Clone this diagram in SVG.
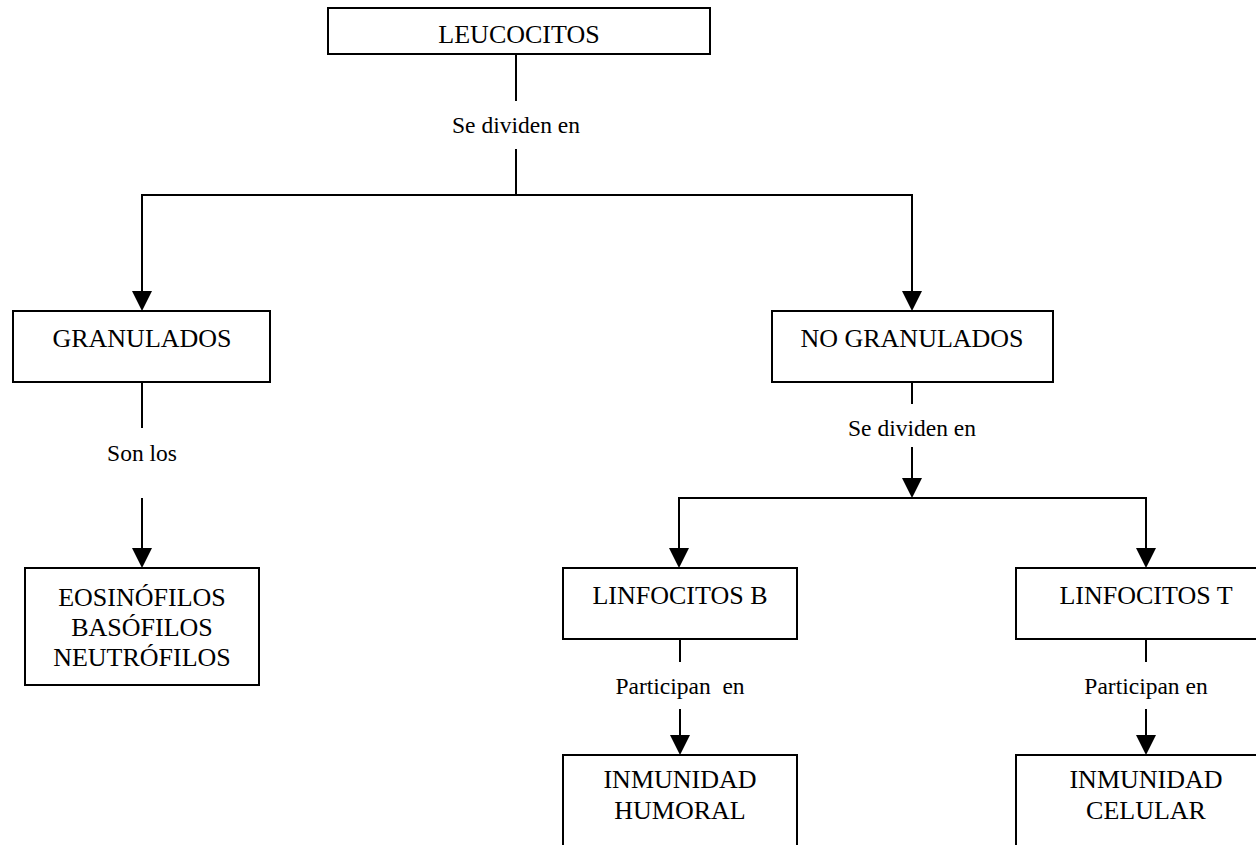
<svg xmlns="http://www.w3.org/2000/svg" width="1256" height="845" viewBox="0 0 1256 845">
  <style>
    .box { fill: #ffffff; stroke: #000000; stroke-width: 2; }
    .txt { font-family: "Liberation Serif", "Times New Roman", serif; font-size: 26px; fill: #000000; text-anchor: middle; }
    .lbl { font-family: "Liberation Serif", "Times New Roman", serif; font-size: 23.5px; fill: #000000; text-anchor: middle; white-space: pre; }
    .ln { fill: none; stroke: #000000; stroke-width: 2; }
  </style>
  <defs>
    <marker id="arrow" viewBox="0 0 20 20" refX="18" refY="10" markerWidth="20" markerHeight="20" markerUnits="userSpaceOnUse" orient="auto">
      <path d="M0,0 L20,10 L0,20 Z" fill="#000000"/>
    </marker>
  </defs>

  <rect width="1256" height="845" fill="#ffffff"/>

  <!-- connectors and their labels -->
  <g id="connectors">
    <!-- LEUCOCITOS to both groups -->
    <line class="ln" x1="516" y1="54" x2="516" y2="101"/>
    <text class="lbl" x="516" y="133">Se dividen en</text>
    <line class="ln" x1="516" y1="149" x2="516" y2="195"/>
    <polyline class="ln" points="142,195 912,195"/>
    <line class="ln" x1="142" y1="194" x2="142" y2="309" marker-end="url(#arrow)"/>
    <line class="ln" x1="912" y1="194" x2="912" y2="309" marker-end="url(#arrow)"/>

    <!-- GRANULADOS to its members -->
    <line class="ln" x1="142" y1="382" x2="142" y2="428"/>
    <text class="lbl" x="142" y="461">Son los</text>
    <line class="ln" x1="142" y1="498" x2="142" y2="566" marker-end="url(#arrow)"/>

    <!-- NO GRANULADOS to lymphocytes -->
    <line class="ln" x1="912" y1="382" x2="912" y2="404"/>
    <text class="lbl" x="912" y="436">Se dividen en</text>
    <line class="ln" x1="912" y1="447" x2="912" y2="496" marker-end="url(#arrow)"/>
    <polyline class="ln" points="679,498 1146,498"/>
    <line class="ln" x1="679" y1="497" x2="679" y2="566" marker-end="url(#arrow)"/>
    <line class="ln" x1="1146" y1="497" x2="1146" y2="566" marker-end="url(#arrow)"/>

    <!-- LINFOCITOS B to humoral immunity -->
    <line class="ln" x1="680" y1="639" x2="680" y2="662"/>
    <text class="lbl" x="680" y="694">Participan  en</text>
    <line class="ln" x1="680" y1="709" x2="680" y2="753" marker-end="url(#arrow)"/>

    <!-- LINFOCITOS T to cellular immunity -->
    <line class="ln" x1="1146" y1="639" x2="1146" y2="662"/>
    <text class="lbl" x="1146" y="694">Participan en</text>
    <line class="ln" x1="1146" y1="709" x2="1146" y2="753" marker-end="url(#arrow)"/>
  </g>

  <g id="leucocitos">
    <rect class="box" x="328" y="8" width="382" height="46"/>
    <text class="txt" x="519" y="43">LEUCOCITOS</text>
  </g>

  <g id="granulados">
    <rect class="box" x="13" y="311" width="257" height="71"/>
    <text class="txt" x="142" y="347">GRANULADOS</text>
  </g>

  <g id="no-granulados">
    <rect class="box" x="772" y="311" width="281" height="71"/>
    <text class="txt" x="912" y="347">NO GRANULADOS</text>
  </g>

  <g id="granulocitos">
    <rect class="box" x="25" y="568" width="234" height="117"/>
    <text class="txt" x="142" y="606">EOSINÓFILOS</text>
    <text class="txt" x="142" y="636">BASÓFILOS</text>
    <text class="txt" x="142" y="666">NEUTRÓFILOS</text>
  </g>

  <g id="linfocitos-b">
    <rect class="box" x="563" y="568" width="234" height="71"/>
    <text class="txt" x="680" y="604">LINFOCITOS B</text>
  </g>

  <g id="linfocitos-t">
    <rect class="box" x="1016" y="568" width="262" height="71"/>
    <text class="txt" x="1146" y="604">LINFOCITOS T</text>
  </g>

  <g id="inmunidad-humoral">
    <rect class="box" x="563" y="755" width="234" height="120"/>
    <text class="txt" x="680" y="788">INMUNIDAD</text>
    <text class="txt" x="680" y="819">HUMORAL</text>
  </g>

  <g id="inmunidad-celular">
    <rect class="box" x="1016" y="755" width="262" height="120"/>
    <text class="txt" x="1146" y="788">INMUNIDAD</text>
    <text class="txt" x="1146" y="819">CELULAR</text>
  </g>
</svg>
